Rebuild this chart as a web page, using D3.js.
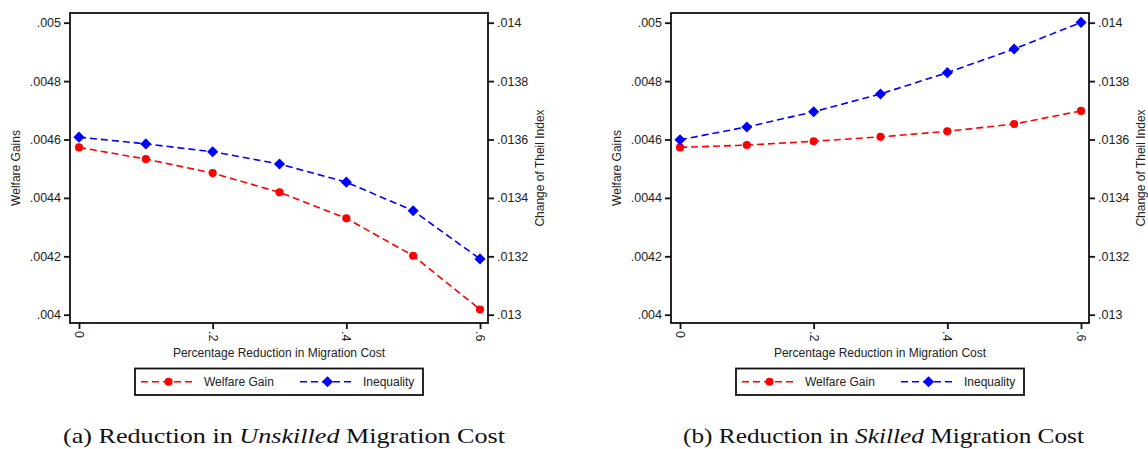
<!DOCTYPE html>
<html>
<head>
<meta charset="utf-8">
<script src="https://cdn.jsdelivr.net/npm/d3@7"></script>
<style>
  html, body { margin: 0; padding: 0; background: #fff; }
  svg { display: block; }
  .tick text { font-family: "Liberation Sans", Arial, sans-serif; font-size: 12.5px; fill: #222; }
</style>
</head>
<body>
<svg id="chart" width="1148" height="449"></svg>
<script>
// Percentage reduction in migration cost (x values)
const reductions = [0, 0.1, 0.2, 0.3, 0.4, 0.5, 0.6];

// Panel (a): reduction in unskilled migration cost
const unskilledWelfare    = [0.004573, 0.004533, 0.004485, 0.004419, 0.004330, 0.004202, 0.004018];
const unskilledInequality = [0.013608, 0.013585, 0.013558, 0.013516, 0.013454, 0.013356, 0.013191];

// Panel (b): reduction in skilled migration cost
const skilledWelfare    = [0.004573, 0.004581, 0.004594, 0.004609, 0.004628, 0.004653, 0.004698];
const skilledInequality = [0.013599, 0.013643, 0.013695, 0.013756, 0.013829, 0.013910, 0.014001];

// Tick values
const xTicks = [0, 0.2, 0.4, 0.6];
const welfareTicks = [0.004, 0.0042, 0.0044, 0.0046, 0.0048, 0.005];
const theilTicks = [0.013, 0.0132, 0.0134, 0.0136, 0.0138, 0.014];

const xTitle = "Percentage Reduction in Migration Cost";
const leftTitle = "Welfare Gains";
const rightTitle = "Change of Theil Index";
const seriesNames = ["Welfare Gain", "Inequality"];

const RED = "#ff0000", BLUE = "#0000ff", INK = "#111";
const svg = d3.select("#chart");

// Stata-style number format: drop the leading zero
const fmt = v => String(+v.toFixed(6)).replace(/^0(?=\.)/, "");

// marker drawers: filled circle, and a square turned 45 degrees
const markers = {
  circle: {d: d3.symbol().type(d3.symbolCircle).size(52)(), rot: 0},
  diamond: {d: d3.symbol().type(d3.symbolSquare).size(62)(), rot: 45}
};

function panel(ox, welfare, inequality, capPrefix, capItalic, capSuffix, capCenter, capLength) {
  const g = svg.append("g").attr("transform", `translate(${ox},0)`);
  const box = {left: 70, right: 488, top: 13, bottom: 323};

  const x = d3.scaleLinear().domain([0, 0.6]).range([79, 480]);
  const yL = d3.scaleLinear().domain([0.004, 0.005]).range([314.7, 22.7]);
  const yR = d3.scaleLinear().domain([0.013, 0.014]).range([314.7, 22.7]);

  // plot frame
  g.append("rect")
    .attr("x", box.left).attr("y", box.top)
    .attr("width", box.right - box.left).attr("height", box.bottom - box.top)
    .attr("fill", "none").attr("stroke", INK).attr("stroke-width", 1.8);

  // left axis
  const ax1 = g.append("g").attr("transform", `translate(${box.left},0)`)
    .call(d3.axisLeft(yL).tickValues(welfareTicks).tickFormat(fmt).tickSize(6).tickPadding(3));
  // right axis
  const ax2 = g.append("g").attr("transform", `translate(${box.right},0)`)
    .call(d3.axisRight(yR).tickValues(theilTicks).tickFormat(fmt).tickSize(6).tickPadding(3));
  // bottom axis
  const ax3 = g.append("g").attr("transform", `translate(0,${box.bottom})`)
    .call(d3.axisBottom(x).tickValues(xTicks).tickFormat(fmt).tickSize(6).tickPadding(3));
  ax3.selectAll(".tick text")
    .attr("transform", "rotate(90)")
    .attr("x", 8).attr("y", 0).attr("dy", "0.35em")
    .attr("text-anchor", "start");
  [ax1, ax2, ax3].forEach(a => {
    a.select(".domain").remove();
    a.selectAll(".tick line").attr("stroke", INK).attr("stroke-width", 1.8);
  });

  // axis titles
  const sans = "'Liberation Sans', Arial, sans-serif";
  g.append("text").attr("transform", `translate(20,168) rotate(-90)`)
    .attr("text-anchor", "middle").attr("font-family", sans).attr("font-size", 12).attr("fill", "#222")
    .text(leftTitle);
  g.append("text").attr("transform", `translate(544,168) rotate(-90)`)
    .attr("text-anchor", "middle").attr("font-family", sans).attr("font-size", 12).attr("fill", "#222")
    .text(rightTitle);
  g.append("text").attr("x", (box.left + box.right) / 2).attr("y", 357)
    .attr("text-anchor", "middle").attr("font-family", sans).attr("font-size", 12).attr("fill", "#222")
    .text(xTitle);

  // series
  const series = [
    {vals: welfare, y: yL, color: RED, m: markers.circle},
    {vals: inequality, y: yR, color: BLUE, m: markers.diamond}
  ];
  series.forEach(s => {
    const pts = reductions.map((r, i) => [x(r), s.y(s.vals[i])]);
    g.append("path").attr("d", d3.line()(pts))
      .attr("fill", "none").attr("stroke", s.color).attr("stroke-width", 1.6)
      .attr("stroke-dasharray", "7,4");
    g.selectAll(null).data(pts).join("path")
      .attr("transform", d => `translate(${d[0]},${d[1]}) rotate(${s.m.rot})`)
      .attr("d", s.m.d)
      .attr("fill", s.color);
  });

  // legend
  const lg = g.append("g");
  lg.append("rect").attr("x", 135).attr("y", 368.5).attr("width", 288).attr("height", 26.5)
    .attr("fill", "#fff").attr("stroke", INK).attr("stroke-width", 1.8);
  const items = [
    {x0: 141, name: seriesNames[0], color: RED, m: markers.circle},
    {x0: 300, name: seriesNames[1], color: BLUE, m: markers.diamond}
  ];
  items.forEach(it => {
    const ly = 381.7;
    lg.append("line").attr("x1", it.x0).attr("x2", it.x0 + 55).attr("y1", ly).attr("y2", ly)
      .attr("stroke", it.color).attr("stroke-width", 1.6).attr("stroke-dasharray", "7,4");
    lg.append("path").attr("transform", `translate(${it.x0 + 27.5},${ly}) rotate(${it.m.rot})`)
      .attr("d", it.m.d).attr("fill", it.color);
    lg.append("text").attr("x", it.x0 + 63).attr("y", ly).attr("dy", "0.35em")
      .attr("font-family", sans).attr("font-size", 12).attr("fill", "#222").text(it.name);
  });

  // caption
  const cap = svg.append("text").attr("x", capCenter).attr("y", 443)
    .attr("text-anchor", "middle").attr("font-family", "'Liberation Serif', 'Times New Roman', serif")
    .attr("font-size", 22).attr("fill", "#111")
    .attr("textLength", capLength).attr("lengthAdjust", "spacingAndGlyphs");
  cap.append("tspan").text(capPrefix);
  cap.append("tspan").attr("font-style", "italic").text(capItalic);
  cap.append("tspan").text(capSuffix);
}

panel(0, unskilledWelfare, unskilledInequality, "(a) Reduction in ", "Unskilled", " Migration Cost", 284, 442);
panel(601, skilledWelfare, skilledInequality, "(b) Reduction in ", "Skilled", " Migration Cost", 883.5, 401);
</script>
</body>
</html>
